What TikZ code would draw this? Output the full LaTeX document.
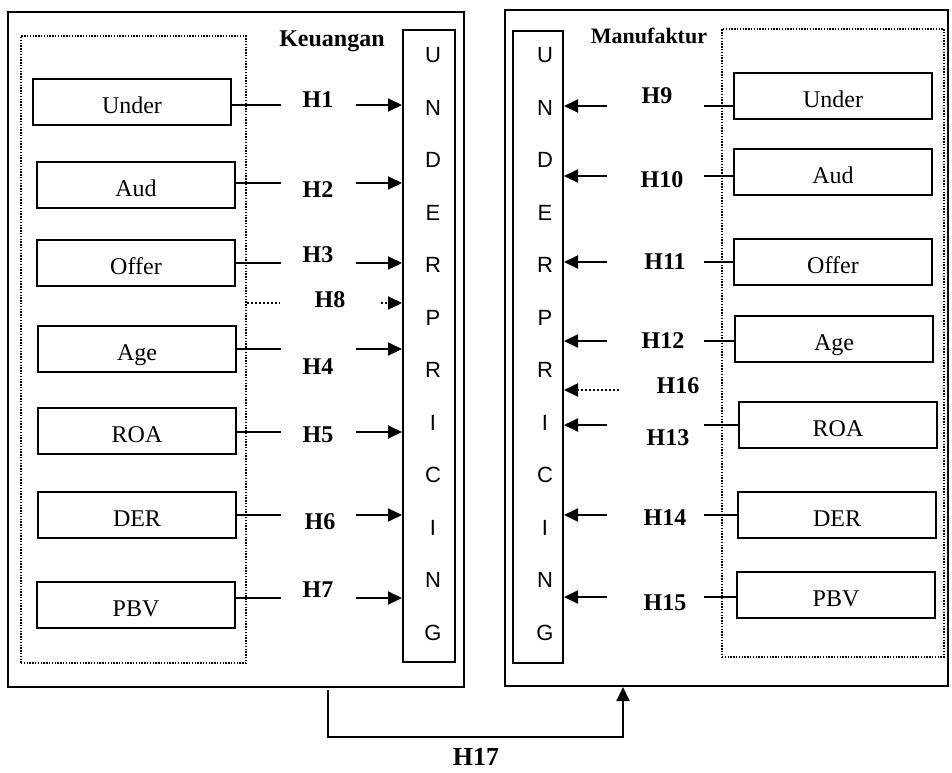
\documentclass[tikz,border=0pt]{standalone}
\usepackage{fontspec}
\setmainfont{Liberation Serif}
\newfontfamily\lettfont{Liberation Sans}
\usetikzlibrary{arrows.meta,positioning}

\begin{document}
\begin{tikzpicture}[x=0.5pt,y=-0.5pt,
  line width=1pt,
  var/.style={draw,line width=1pt,minimum width=99pt,minimum height=23pt,
              inner sep=0pt,font=\fontsize{12}{14}\selectfont,
              text height=11pt,text depth=0pt},
  sect/.style={draw,line width=1pt,inner sep=0pt},
  grp/.style={draw,line width=0.6pt,dash pattern=on 0.7pt off 0.7pt,inner sep=0pt},
  col/.style={draw,line width=1pt,minimum width=26pt,minimum height=316pt,inner sep=0pt},
  letter/.style={font=\lettfont\fontsize{11}{13}\selectfont,inner sep=0pt},
  hyp/.style={font=\bfseries\fontsize{12}{14}\selectfont,inner sep=0pt},
  sectlabel/.style={font=\bfseries\fontsize{12}{14}\selectfont,inner sep=0pt,anchor=base},
  gap/.style={inner sep=0pt,minimum width=#1,minimum height=0pt},
  dotline/.style={dash pattern=on 1pt off 1pt},
  arr/.style={-{Triangle[length=7pt,width=6.5pt]}},
]
  \useasboundingbox (0,0) rectangle (952,772);

  % sector frames
  \node[sect,minimum width=228pt,minimum height=337.5pt] (outK) at (236,349.5) {};
  \node[sect,minimum width=221.5pt,minimum height=338pt] (outM) at (726.5,348) {};
  \node[grp,minimum width=112.5pt,minimum height=313.5pt] (grpK) at (133.5,349.5) {};
  \node[grp,minimum width=111pt,minimum height=314pt] (grpM) at (833,343) {};
  \node[sectlabel] (lblK) at (332,46) {Keuangan};
  \node[sectlabel,font=\bfseries\fontsize{11}{13}\selectfont] (lblM) at (649,43) {Manufaktur};

  % underpricing columns
  \node[col] (undK) at (429,346) {};
  \node[col,minimum width=25pt] (undM) at (538,346.5) {};
  \foreach \l [count=\i from 0] in {U,N,D,E,R,P,R,I,C,I,N,G} {
    \node[letter] (lK\i) at (433,55+52.5*\i) {\l};
    \node[letter] (lM\i) at (545,55+52.5*\i) {\l};
  }

  % Keuangan variables
  \node[var] (kUnder) at (132,102) {Under};
  \node[var] (kAud)   at (136,185) {Aud};
  \node[var] (kOffer) at (136,263) {Offer};
  \node[var] (kAge)   at (137,349) {Age};
  \node[var] (kROA)   at (137,431) {ROA};
  \node[var] (kDER)   at (137,515) {DER};
  \node[var] (kPBV)   at (136,605) {PBV};

  \foreach \n/\v/\y in {1/kUnder/105,2/kAud/183,3/kOffer/263,4/kAge/349,
                        5/kROA/432,6/kDER/515,7/kPBV/598} {
    \node[gap=36.5pt] (gK\n) at (318.5,\y) {};
    \draw (gK\n.west -| \v.east) -- (gK\n.west);
    \draw[arr] (gK\n.east) -- (gK\n.east -| undK.west);
  }
  \node[gap=50pt] (gK8) at (330,303) {};
  \draw[dotline] (gK8.west -| grpK.east) -- (gK8.west);
  \draw[arr,dotline] (gK8.east) -- (gK8.east -| undK.west);

  \node[hyp] (hK1) at (318,100) {H1};
  \node[hyp] (hK2) at (318,190) {H2};
  \node[hyp] (hK3) at (318,255) {H3};
  \node[hyp] (hK8) at (330,300) {H8};
  \node[hyp] (hK4) at (318,367) {H4};
  \node[hyp] (hK5) at (318,435) {H5};
  \node[hyp] (hK6) at (320,522) {H6};
  \node[hyp] (hK7) at (318,590) {H7};

  % Manufaktur variables
  \node[var] (mUnder) at (833,96)  {Under};
  \node[var] (mAud)   at (833,172) {Aud};
  \node[var] (mOffer) at (833,262) {Offer};
  \node[var] (mAge)   at (834,339) {Age};
  \node[var] (mROA)   at (838,425) {ROA};
  \node[var] (mDER)   at (837,515) {DER};
  \node[var] (mPBV)   at (836,595) {PBV};

  \foreach \n/\v/\y in {9/mUnder/106,10/mAud/176,11/mOffer/262,12/mAge/341,
                        13/mROA/425,14/mDER/515,15/mPBV/597} {
    \node[gap=47.5pt] (gM\n) at (655.5,\y) {};
    \draw (gM\n.east -| \v.west) -- (gM\n.east);
    \draw[arr] (gM\n.west) -- (gM\n.west -| undM.east);
  }
  \node[gap=35pt] (gM16) at (655,390) {};
  \draw[arr,dotline] (gM16.west) -- (gM16.west -| undM.east);

  \node[hyp] (hM9)  at (657,96)  {H9};
  \node[hyp] (hM10) at (662,180) {H10};
  \node[hyp] (hM11) at (665,262) {H11};
  \node[hyp] (hM12) at (663,341) {H12};
  \node[hyp] (hM16) at (678,386) {H16};
  \node[hyp] (hM13) at (668,438) {H13};
  \node[hyp] (hM14) at (665,518) {H14};
  \node[hyp] (hM15) at (665,603) {H15};

  % between sectors
  \coordinate (h17s) at (328,690);
  \coordinate (h17t) at (623,737);
  \draw[arr] (h17s) |- (h17t) -- (h17t |- outM.south);
  \node[hyp,font=\bfseries\fontsize{13}{15}\selectfont] (h17) at (476,757) {H17};
\end{tikzpicture}
\end{document}
